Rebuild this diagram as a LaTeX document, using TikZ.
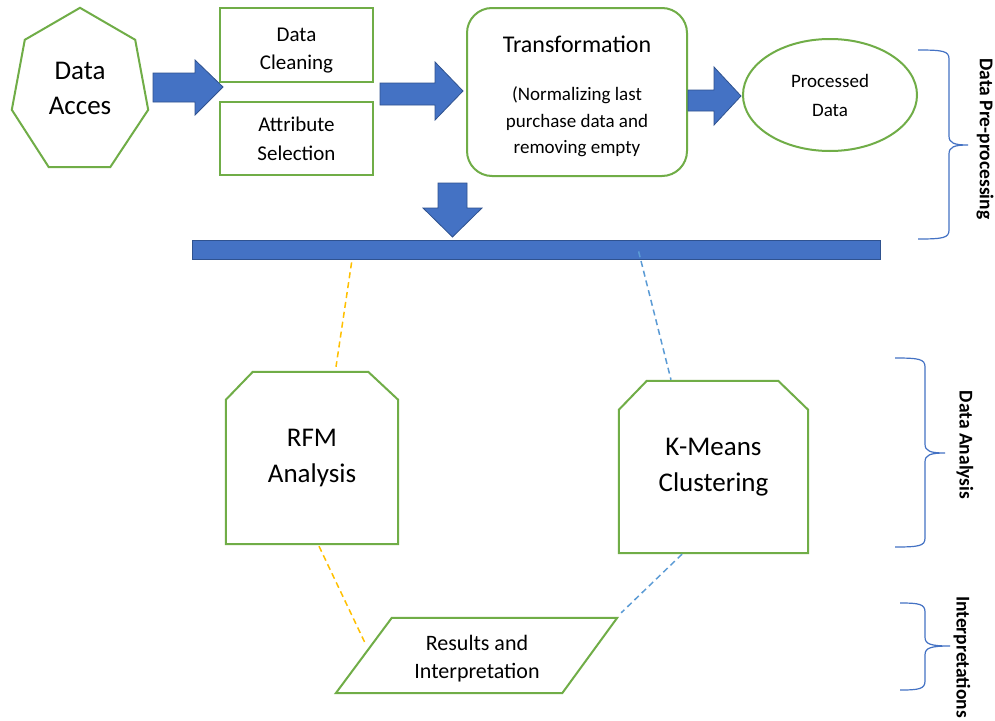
\documentclass[tikz,border=0pt]{standalone}
\usepackage{fontspec}
\setmainfont{Carlito}
\usetikzlibrary{calc,shapes.geometric}

\definecolor{boxgreen}{HTML}{70AD47}
\definecolor{arrowblue}{HTML}{4472C4}
\definecolor{arrowedge}{HTML}{2F528F}
\definecolor{linkyellow}{HTML}{FFC000}
\definecolor{linkblue}{HTML}{5B9BD5}
\definecolor{bracecol}{HTML}{4472C4}

% Office-style curly brace opening to the left:
% #1 end x, #2 spine x, #3 tip x, #4 top y, #5 middle y, #6 bottom y
\newcommand\curlybrace[6]{%
  \draw[bracepath] (#1,#4) .. controls (#2-6,#4) and (#2,#4+1) .. (#2,#4+9)
    -- (#2,#5-9) .. controls (#2,#5-2) and (#2+5,#5) .. (#3,#5)
    .. controls (#2+5,#5) and (#2,#5+2) .. (#2,#5+9)
    -- (#2,#6-9) .. controls (#2,#6-1) and (#2-6,#6) .. (#1,#6);}

\begin{document}
\begin{tikzpicture}[x=1pt,y=-1pt,
  outline/.style={draw=boxgreen, line width=2pt, line join=miter},
  greenbox/.style={outline, rectangle, inner sep=0pt, align=center},
  plain/.style={inner sep=0pt, align=center},
  blockarrow/.style={fill=arrowblue, draw=arrowedge, line width=0.8pt, line join=miter},
  yellowlink/.style={draw=linkyellow, line width=1.5pt, dash pattern=on 6pt off 4pt},
  bluelink/.style={draw=linkblue, line width=1.5pt, dash pattern=on 6pt off 4pt},
  bracepath/.style={draw=bracecol, line width=1.2pt},
  sidelabel/.style={rotate=-90, inner sep=0pt, font=\fontsize{19.5}{23}\selectfont\bfseries},
  fbig/.style={font=\fontsize{27}{36}\selectfont},
]
\fill[white] (0,0) rectangle (995,720);
\path[use as bounding box] (0,0) rectangle (995,720);

% ---------- pre-processing row ----------
\node[plain, fbig, minimum width=136pt, minimum height=159pt, font=\fontsize{27}{35}\selectfont]
  (acc) at (80,87.5) {\rule{0pt}{21pt}Data\\Acces\rule[-3pt]{0pt}{0pt}};
\draw[outline] (acc.north) -- ($(acc.north east)+(-13,32)$) -- ($(acc.north east)+(0,102)$)
  -- ($(acc.south east)+(-38,0)$) -- ($(acc.south west)+(37,0)$)
  -- ($(acc.north west)+(0,102)$) -- ($(acc.north west)+(13,32)$) -- cycle;

\node[greenbox, minimum width=153pt, minimum height=74pt, font=\fontsize{21}{28}\selectfont]
  (clean) at (296.5,45) {\rule{0pt}{24.3pt}Data\\Cleaning};
\node[greenbox, minimum width=153pt, minimum height=73pt, font=\fontsize{21}{29}\selectfont]
  (attr) at (296.5,138.5) {Attribute\\Selection};

\node[greenbox, rounded corners=25pt, minimum width=220pt, minimum height=168pt]
  (trans) at (577,92) {};
\node[plain, anchor=base, font=\fontsize{24}{29}\selectfont] (transTitle) at (577,52) {Transformation};
\node[plain, font=\fontsize{19}{26.5}\selectfont] (transNote) at (577,122)
  {(Normalizing last\\purchase data and\\removing empty};

\node[outline, ellipse, inner sep=0pt, minimum width=174pt, minimum height=112pt,
  align=center, font=\fontsize{19}{29}\selectfont] (proc) at (830,95) {Processed\\Data};

% block arrows
\draw[blockarrow] (153,73) -- (195,73) -- (195,60) -- (223,87) -- (195,115) -- (195,102) -- (153,102) -- cycle;
\draw[blockarrow] (380,83) -- (435,83) -- (435,62) -- (463,91) -- (435,120) -- (435,105) -- (380,105) -- cycle;
\draw[blockarrow] (688,90) -- (714,90) -- (714,67) -- (741,96) -- (714,125) -- (714,111) -- (688,111) -- cycle;
\draw[blockarrow] (438,183) -- (467,183) -- (467,208) -- (482,208) -- (452.5,237) -- (423,208) -- (438,208) -- cycle;

% data bar
\node[rectangle, fill=arrowblue, draw=arrowedge, line width=0.8pt, inner sep=0pt,
  minimum width=688pt, minimum height=19pt] (bar) at (536,249.5) {};

% ---------- analysis ----------
\node[plain, fbig, minimum width=172pt, minimum height=172pt] (rfm) at (312,458) {RFM\\Analysis};
\draw[outline] (rfm.south west) -- ([yshift=-28pt]rfm.north west) -- ([xshift=27pt]rfm.north west)
  -- ([xshift=-30pt]rfm.north east) -- ([yshift=-28pt]rfm.north east) -- (rfm.south east) -- cycle;

\node[plain, fbig, minimum width=189pt, minimum height=172pt] (km) at (713.5,467) {K-Means\\Clustering};
\draw[outline] (km.south west) -- ([yshift=-29pt]km.north west) -- ([xshift=28pt]km.north west)
  -- ([xshift=-30pt]km.north east) -- ([yshift=-29pt]km.north east) -- (km.south east) -- cycle;

% ---------- interpretation ----------
\node[plain, minimum width=226pt, minimum height=75pt, font=\fontsize{22}{28}\selectfont]
  (res) at (477,655.5) {\rule{0pt}{21.5pt}Results and\\Interpretation};
\draw[outline] ([xshift=-28pt]res.south west) -- ([xshift=28pt]res.north west)
  -- ([xshift=27pt]res.north east) -- ([xshift=-28pt]res.south east) -- cycle;

% dashed links
\draw[yellowlink] ($(bar.south west)+(160,3)$) -- ($(rfm.north)+(24,-5)$);
\draw[bluelink] ($(bar.south west)+(447,-8)$) -- ($(km.north)+(-42.5,-1)$);
\draw[yellowlink] ($(rfm.south)+(7,2)$) -- ($(res.center)+(-111,-10.5)$);
\draw[bluelink] ($(km.south)+(-31.5,1)$) -- ($(res.north east)+(31,-5)$);

% ---------- stage braces ----------
\curlybrace{918}{949}{968}{50}{145}{239}
\curlybrace{895}{925}{945}{358}{453}{547}
\curlybrace{900}{925}{950}{603}{646}{690}

\node[sidelabel] (lblPre) at (985,139) {Data Pre-processing};
\node[sidelabel] (lblAna) at (965,445) {Data Analysis};
\node[sidelabel] (lblInt) at (962,657) {Interpretations};
\end{tikzpicture}
\end{document}
